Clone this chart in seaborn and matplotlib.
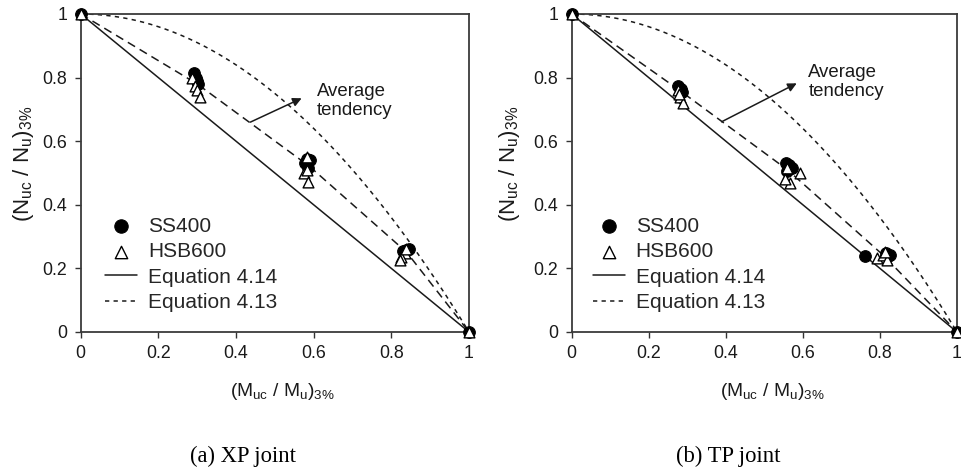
import numpy as np
import pandas as pd
import matplotlib
matplotlib.use("Agg")
import matplotlib.pyplot as plt
import seaborn as sns

# ---- XP joint: normalised interaction results (M/Mu, N/Nu) at 3% drift ----
xp_ss400_x = [0.0, 0.293, 0.297, 0.303, 0.300, 0.582, 0.590, 0.586, 0.578, 0.845, 0.838, 0.830, 1.0]
xp_ss400_y = [1.0, 0.815, 0.800, 0.780, 0.790, 0.545, 0.540, 0.515, 0.530, 0.262, 0.258, 0.255, 0.0]
xp_hsb600_x = [0.0, 0.287, 0.295, 0.300, 0.307, 0.584, 0.575, 0.582, 0.586, 0.834, 0.826, 0.822, 0.838, 1.0]
xp_hsb600_y = [1.0, 0.800, 0.775, 0.760, 0.740, 0.550, 0.500, 0.510, 0.473, 0.250, 0.235, 0.225, 0.260, 0.0]
xp_avg_x = [0.0, 0.30, 0.59, 0.84, 1.0]
xp_avg_y = [1.0, 0.78, 0.52, 0.25, 0.0]

# ---- TP joint ----
tp_ss400_x = [0.0, 0.277, 0.283, 0.285, 0.555, 0.565, 0.573, 0.560, 0.761, 0.815, 0.826, 0.820, 1.0]
tp_ss400_y = [1.0, 0.775, 0.765, 0.755, 0.530, 0.525, 0.515, 0.505, 0.239, 0.250, 0.243, 0.238, 0.0]
tp_hsb600_x = [0.0, 0.275, 0.281, 0.288, 0.278, 0.558, 0.593, 0.567, 0.553, 0.793, 0.809, 0.818, 0.812, 1.0]
tp_hsb600_y = [1.0, 0.760, 0.740, 0.720, 0.750, 0.515, 0.500, 0.470, 0.480, 0.232, 0.243, 0.227, 0.253, 0.0]
tp_avg_x = [0.0, 0.28, 0.56, 0.81, 1.0]
tp_avg_y = [1.0, 0.76, 0.51, 0.24, 0.0]

# Design interaction equations
eq414_x = [0.0, 1.0]
eq414_y = [1.0, 0.0]            # linear: N/Nu + M/Mu = 1
eq413_x = np.linspace(0.0, 1.0, 201)
eq413_y = 1.0 - eq413_x ** 2    # parabolic: N/Nu + (M/Mu)^2 = 1

tick_vals = [0, 0.2, 0.4, 0.6, 0.8, 1]
tick_text = ["0", "0.2", "0.4", "0.6", "0.8", "1"]

sns.set_theme(style="ticks")
plt.rcParams["font.family"] = ["Liberation Sans", "DejaVu Sans"]
plt.rcParams["mathtext.default"] = "regular"

W, H = 962, 471
fig = plt.figure(figsize=(W / 100, H / 100), dpi=100)


def px_axes(x0, x1, y0, y1):
    return fig.add_axes([x0 / W, 1 - y1 / H, (x1 - x0) / W, (y1 - y0) / H])


ax_l = px_axes(80.7, 469.0, 14.0, 332.0)
ax_r = px_axes(571.7, 957.0, 14.0, 332.0)

line_col = "#1a1a1a"
panels = [
    (ax_l, xp_ss400_x, xp_ss400_y, xp_hsb600_x, xp_hsb600_y, xp_avg_x, xp_avg_y,
     (0.437, 0.660), (0.569, 0.735), (0.608, 0.726), -0.114, (0.063, 0.063),
     "(a) XP joint", 243.5),
    (ax_r, tp_ss400_x, tp_ss400_y, tp_hsb600_x, tp_hsb600_y, tp_avg_x, tp_avg_y,
     (0.389, 0.661), (0.584, 0.782), (0.614, 0.785), -0.13, (0.055, 0.063),
     "(b) TP joint", 728.0),
]

for (ax, sx, sy, hx, hy, ax_, ay_, a_from, a_to, t_pos, ylab_x, leg_anchor,
     caption, cap_x) in panels:
    sns.lineplot(x=eq414_x, y=eq414_y, ax=ax, color=line_col, lw=1.1,
                 sort=False, estimator=None, label="Equation 4.14")
    sns.lineplot(x=eq413_x, y=eq413_y, ax=ax, color=line_col, lw=1.1,
                 linestyle=(0, (2.8, 2.8)), sort=False, estimator=None,
                 label="Equation 4.13")
    sns.lineplot(x=ax_, y=ay_, ax=ax, color=line_col, lw=1.1,
                 linestyle=(0, (5.5, 3.5)), sort=False, estimator=None)
    sns.scatterplot(x=sx, y=sy, ax=ax, marker="o", s=70, color="black",
                    edgecolor="black", linewidth=0.8, clip_on=False,
                    zorder=4, label="SS400")
    sns.scatterplot(x=hx, y=hy, ax=ax, marker="^", s=60, color="white",
                    edgecolor="black", linewidth=1.0, clip_on=False,
                    zorder=5, label="HSB600")

    ax.set_xlim(0, 1)
    ax.set_ylim(0, 1)
    ax.set_xticks(tick_vals)
    ax.set_xticklabels(tick_text)
    ax.set_yticks(tick_vals)
    ax.set_yticklabels(tick_text)
    ax.tick_params(axis="both", direction="out", length=4, width=1.0,
                   colors="#333333", labelcolor="#1a1a1a", labelsize=12.8)
    ax.tick_params(axis="x", pad=5.5)
    ax.tick_params(axis="y", pad=5.8)
    for sp in ax.spines.values():
        sp.set_visible(True)
        sp.set_color("#3a3a3a")
        sp.set_linewidth(1.3)

    ax.set_xlabel("(M$_{uc}$ / M$_{u}$)$_{3\\%}$", fontsize=13.8, color="#1a1a1a")
    ax.set_ylabel("(N$_{uc}$ / N$_{u}$)$_{3\\%}$", fontsize=16, color="#1a1a1a")
    ax.xaxis.set_label_coords(0.52, -0.153)
    ax.yaxis.set_label_coords(ylab_x, 0.53)

    ax.annotate("", xy=a_to, xytext=a_from,
                arrowprops=dict(arrowstyle="-|>", color=line_col, lw=1.1,
                                mutation_scale=13, shrinkA=0, shrinkB=0))
    ax.text(t_pos[0], t_pos[1], "Average\ntendency", fontsize=13.4,
            ha="left", va="center", color="#1a1a1a", linespacing=1.15)

    handles, labels = ax.get_legend_handles_labels()
    order = [labels.index(k) for k in ["SS400", "HSB600", "Equation 4.14", "Equation 4.13"]]
    ax.legend([handles[i] for i in order], [labels[i] for i in order],
              loc="lower left", bbox_to_anchor=leg_anchor, frameon=False,
              fontsize=15, handlelength=1.55, handletextpad=0.5,
              labelspacing=0.31, borderpad=0, borderaxespad=0,
              markerscale=1.15)

    fig.text(cap_x / W, 1 - 456.7 / H, caption, ha="center", va="center",
             fontsize=16.3, family=["Liberation Serif", "DejaVu Serif"],
             color="black")

fig.savefig("out.png", dpi=100)
